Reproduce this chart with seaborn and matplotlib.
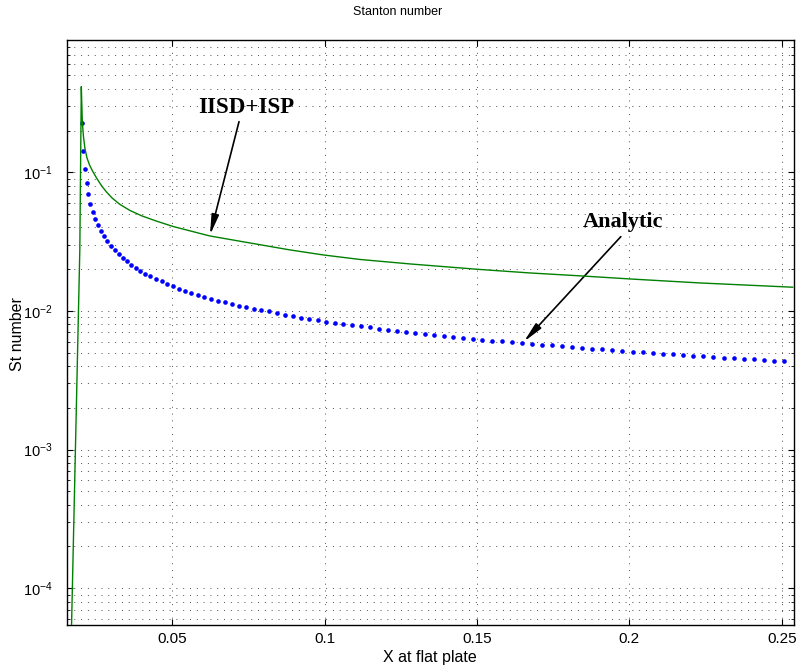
import numpy as np
import pandas as pd
import matplotlib
matplotlib.use("Agg")
import matplotlib.pyplot as plt
import matplotlib.ticker as mticker
import seaborn as sns

# ---- data ----
iisd_x = [0.01682, 0.01964, 0.02013, 0.02046, 0.02085, 0.02135, 0.02200, 0.02282,
          0.02381, 0.02512, 0.0266, 0.02824, 0.03021, 0.03283, 0.03611, 0.04005,
          0.04465, 0.05023, 0.05909, 0.06237, 0.0755, 0.08863, 0.09955, 0.1116,
          0.1280, 0.1499, 0.1674, 0.1844, 0.2002, 0.2232, 0.2537]
iisd_y = [4.24e-5, 0.02754, 0.4144, 0.2305, 0.1798, 0.1472, 0.1268, 0.1129,
          0.1022, 0.09097, 0.0810, 0.0727, 0.06527, 0.05858, 0.05301, 0.0484,
          0.04455, 0.04065, 0.0362, 0.0347, 0.0309, 0.02753, 0.02533, 0.02350,
          0.02182, 0.01998, 0.01878, 0.01787, 0.01700, 0.01591, 0.01482]

analytic_x = [0.02026, 0.02079, 0.02128, 0.02184, 0.02243, 0.02309, 0.02381, 0.02473,
              0.02561, 0.02650, 0.02758, 0.02866, 0.02988, 0.03109, 0.03234, 0.03365,
              0.03503, 0.03644, 0.03799, 0.03950, 0.04114, 0.04278, 0.04455, 0.04645,
              0.04836, 0.05023, 0.05220, 0.05417, 0.05623, 0.05827, 0.06050, 0.06270,
              0.06490, 0.06719, 0.06949, 0.07189, 0.07428, 0.07681, 0.07921, 0.08173,
              0.08436, 0.08689, 0.08961, 0.09224, 0.09496, 0.09772, 0.1005, 0.1033,
              0.1061, 0.1090, 0.1118, 0.1148, 0.1177, 0.1207, 0.1237, 0.1267,
              0.1298, 0.1329, 0.1360, 0.1392, 0.1422, 0.1454, 0.1486, 0.1517,
              0.1549, 0.1582, 0.1616, 0.1649, 0.1680, 0.1712, 0.1745, 0.1778,
              0.1811, 0.1844, 0.1877, 0.1910, 0.1943, 0.1977, 0.2011, 0.2044,
              0.2077, 0.2109, 0.2143, 0.2176, 0.2210, 0.2243, 0.2276, 0.2310,
              0.2342, 0.2375, 0.2408, 0.2441, 0.2474, 0.2507]
analytic_y = [0.2279, 0.1432, 0.1051, 0.08331, 0.06940, 0.05937, 0.05171, 0.04604,
              0.04147, 0.03773, 0.03455, 0.03180, 0.02941, 0.02739, 0.02576, 0.02422,
              0.02282, 0.02157, 0.02041, 0.01942, 0.01857, 0.01778, 0.01700, 0.01631,
              0.01565, 0.01501, 0.01440, 0.01393, 0.01348, 0.01304, 0.01261, 0.01220,
              0.01186, 0.01155, 0.01123, 0.01091, 0.01063, 0.01038, 0.01016, 0.009912,
              0.009668, 0.009399, 0.009152, 0.008941, 0.008750, 0.008563, 0.008366, 0.008229,
              0.008054, 0.007921, 0.007752, 0.007624, 0.007449, 0.007326, 0.007206, 0.007087,
              0.006970, 0.006855, 0.006743, 0.006632, 0.006523, 0.006415, 0.006310, 0.006206,
              0.006104, 0.006043, 0.005973, 0.005875, 0.005808, 0.005712, 0.005655, 0.005590,
              0.005498, 0.005434, 0.005345, 0.005292, 0.005231, 0.005145, 0.005086, 0.005035,
              0.004977, 0.004919, 0.004870, 0.004814, 0.004758, 0.004711, 0.004656, 0.004603,
              0.004557, 0.004504, 0.004482, 0.004430, 0.004379, 0.004357]

x_ticks = [0.05, 0.1, 0.15, 0.2, 0.25]
x_tick_labels = ["0.05", "0.1", "0.15", "0.2", "0.25"]

title = "Stanton number"
x_label = "X at flat plate"
y_label = "St number"

# ---- style ----
sns.set_style("ticks")
plt.rcParams["font.family"] = ["Liberation Sans", "DejaVu Sans"]
plt.rcParams["mathtext.fontset"] = "custom"
plt.rcParams["mathtext.rm"] = "Liberation Sans"
plt.rcParams["mathtext.it"] = "Liberation Sans"
plt.rcParams["text.color"] = "black"
plt.rcParams["axes.labelcolor"] = "black"
plt.rcParams["xtick.color"] = "black"
plt.rcParams["ytick.color"] = "black"

fig = plt.figure(figsize=(7.98, 6.66), dpi=100)
ax = fig.add_axes([0.0836, 0.0616, 0.9114, 0.8784])

df_a = pd.DataFrame({"x": analytic_x, "y": analytic_y})
df_i = pd.DataFrame({"x": iisd_x, "y": iisd_y})

sns.scatterplot(data=df_a, x="x", y="y", ax=ax, color="#0000ff", s=11,
                linewidth=0, marker="o", zorder=3)
sns.lineplot(data=df_i, x="x", y="y", ax=ax, color="#008000", lw=1.0,
             sort=False, estimator=None, zorder=4)

ax.set_yscale("log")
ax.set_xlim(0.01534, 0.25404)
ax.set_ylim(5.43e-5, 0.90)

ax.set_xticks(x_ticks)
ax.set_xticklabels(x_tick_labels)
ax.xaxis.set_minor_locator(mticker.NullLocator())
ax.yaxis.set_major_locator(mticker.LogLocator(base=10, numticks=10))
ax.yaxis.set_minor_locator(mticker.LogLocator(base=10, subs=np.arange(2, 10), numticks=20))
ax.yaxis.set_minor_formatter(mticker.NullFormatter())

ax.tick_params(which="both", direction="in", top=True, right=True, colors="black")
ax.tick_params(axis="x", labelsize=11)
ax.tick_params(axis="y", labelsize=10.5)
ax.tick_params(which="major", length=4, width=0.8)
ax.tick_params(which="minor", length=2.5, width=0.6)
ax.tick_params(axis="y", which="major", pad=10)
ax.tick_params(axis="x", which="major", pad=5)

grid_kw = dict(color="0.3", linestyle=(0, (1, 6)), linewidth=0.7)
ax.xaxis.grid(True, which="major", **grid_kw)
ax.yaxis.grid(True, which="major", **grid_kw)
ax.yaxis.grid(True, which="minor", **grid_kw)
ax.set_axisbelow(True)

for sp in ax.spines.values():
    sp.set_linewidth(1.0)
    sp.set_color("black")

fig.text(398 / 798, 1 - 12 / 666, title, fontsize=9, ha="center", va="center",
         color="black")
ax.set_xlabel(x_label, fontsize=11.5, labelpad=3, color="black")
ax.set_ylabel(y_label, fontsize=11.5, color="black", va="center")
ax.yaxis.set_label_coords(-0.067, 0.497)

arrow_kw = dict(arrowstyle="-|>,head_length=1.2,head_width=0.22", color="black",
                lw=1.2, shrinkA=0, shrinkB=0)
ax.annotate("", xy=(0.06237, 0.0353), xytext=(0.07189, 0.2317), arrowprops=arrow_kw)
ax.annotate("", xy=(0.1654, 0.006003), xytext=(0.1972, 0.03432), arrowprops=arrow_kw)
ax.text(0.07418, 0.2909, "IISD+ISP", ha="center", va="center", fontsize=16.5,
        fontweight="bold", color="black", family=["Liberation Serif", "DejaVu Serif"])
ax.text(0.1979, 0.04381, "Analytic", ha="center", va="center", fontsize=16,
        fontweight="bold", color="black", family=["Liberation Serif", "DejaVu Serif"])

legend = ax.get_legend()
if legend is not None:
    legend.remove()

fig.savefig("out.png", dpi=100)
